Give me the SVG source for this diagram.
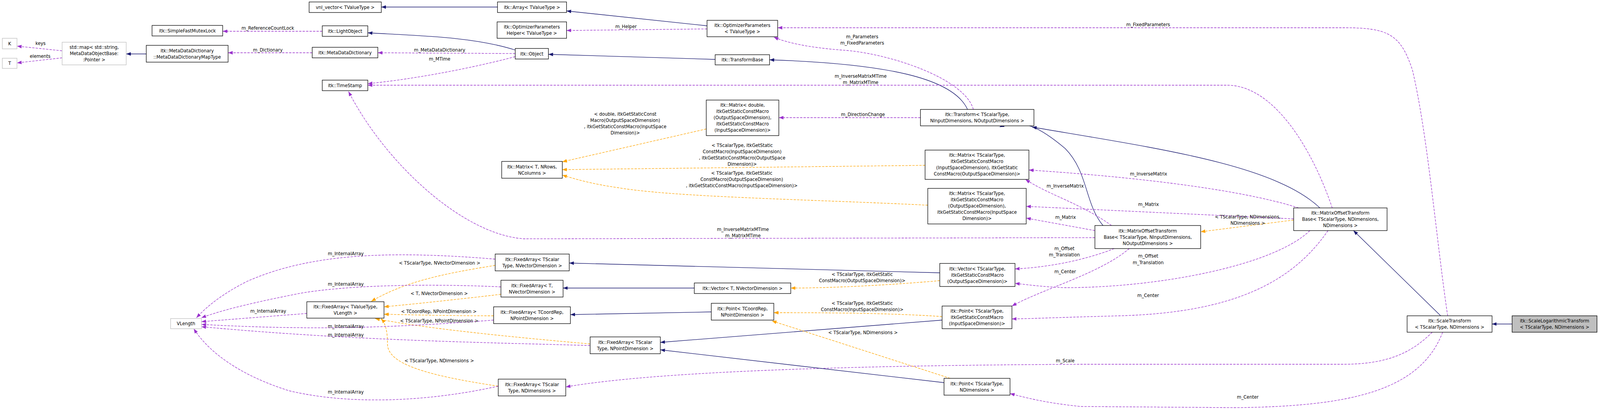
<svg xmlns="http://www.w3.org/2000/svg" width="4144" height="1049" viewBox="0 0 4144 1049">
<style>
text{font-family:"DejaVu Sans",sans-serif;font-size:11.6px;fill:#000;text-anchor:middle}
.n rect{fill:#fff;stroke:#000;stroke-width:1.3}
.g rect{fill:#fff;stroke:#bfbfbf;stroke-width:1.3}
.h rect{fill:#bfbfbf;stroke:#000;stroke-width:1.3}
.e path{fill:none;stroke-width:1.3}
.i{stroke:#191970;marker-end:url(#ai)}
.u{stroke:#9a32cd;stroke-dasharray:6,3;marker-end:url(#au)}
.t{stroke:#ffa500;stroke-dasharray:6,3;marker-end:url(#at)}
</style>
<defs>
<marker id="ai" markerUnits="userSpaceOnUse" markerWidth="12" markerHeight="9" refX="12" refY="4.5" orient="auto"><path d="M0,0L12,4.5L0,9z" fill="#191970"/></marker>
<marker id="au" markerUnits="userSpaceOnUse" markerWidth="12" markerHeight="9" refX="12" refY="4.5" orient="auto"><path d="M0,0L12,4.5L0,9z" fill="#9a32cd"/></marker>
<marker id="at" markerUnits="userSpaceOnUse" markerWidth="12" markerHeight="9" refX="12" refY="4.5" orient="auto"><path d="M0,0L12,4.5L0,9z" fill="#ffa500"/></marker>
</defs>
<rect width="4144" height="1049" fill="#fff"/>
<g transform="scale(0.988,1)">
<g id="connectors" class="e">
<path class="u" d="M161,130L44,118"/>
<path class="u" d="M161,148L44,161"/>
<path class="i" d="M379,138L327,138"/>
<path class="u" d="M809,135L591,135"/>
<path class="u" d="M835,80L577,80"/>
<path class="i" d="M1335,128C1230,95 1100,92 953,84"/>
<path class="u" d="M1335,137L979,135"/>
<path class="u" d="M1335,145C1200,180 1050,205 953,214"/>
<path class="i" d="M1289,18L988,18"/>
<path class="i" d="M1832,66L1468,28"/>
<path class="u" d="M1832,74L1468,78"/>
<path class="i" d="M1853,152L1421,139"/>
<path class="i" d="M2507,280C2470,200 2300,163 1994,153"/>
<path class="u" d="M2522,280C2500,200 2300,135 2180,128C2100,122 2040,110 2005,95"/>
<path class="u" d="M2385,301L2018,301"/>
<path class="u" d="M3452,532C3400,380 3300,218 3180,218L953,218"/>
<path class="t" d="M1830,330L1457,414"/>
<path class="t" d="M2397,423L1457,434"/>
<path class="t" d="M2404,525C2100,510 1750,505 1600,480C1530,470 1490,458 1457,448"/>
<path class="i" d="M2858,577C2810,520 2820,440 2760,380C2700,330 2650,300 2590,325"/>
<path class="u" d="M2880,577C2800,520 2720,500 2657,459"/>
<path class="u" d="M2837,590L2659,558"/>
<path class="u" d="M2837,608L1357,611C1200,600 1000,420 903,234"/>
<path class="u" d="M2887,636C2800,670 2700,685 2630,688"/>
<path class="u" d="M2926,636C2850,700 2700,740 2622,783"/>
<path class="i" d="M3420,532C3300,420 3000,380 2674,325"/>
<path class="u" d="M3365,532C3200,480 2900,450 2666,435"/>
<path class="u" d="M3352,560L2659,528"/>
<path class="t" d="M3352,563L3111,593"/>
<path class="u" d="M3394,590C3300,680 3000,736 2760,736C2700,734 2660,728 2630,725"/>
<path class="u" d="M3441,590C3350,720 3200,800 2900,808C2750,812 2680,815 2622,816"/>
<path class="i" d="M3733,808L3507,590"/>
<path class="i" d="M3918,829L3866,829"/>
<path class="u" d="M3751,808C3720,600 3700,350 3660,180C3630,90 3600,71 3485,71L2015,71"/>
<path class="u" d="M3711,850C3660,900 3600,932 3480,932L2800,932C2200,935 1700,950 1466,990"/>
<path class="u" d="M3738,850C3680,1000 3500,1040 3200,1043L2800,1040C2700,1030 2650,1015 2617,1007"/>
<path class="i" d="M1799,737L1459,737"/>
<path class="i" d="M2435,698L1475,673"/>
<path class="t" d="M2435,718C2300,730 2150,737 2049,737"/>
<path class="i" d="M1843,798L1478,805"/>
<path class="t" d="M2441,810C2300,800 2100,800 2005,800"/>
<path class="i" d="M2441,819L1711,876"/>
<path class="i" d="M2446,979L1711,895"/>
<path class="t" d="M2462,968L2000,821"/>
<path class="t" d="M1283,679C1150,700 1050,720 962,771"/>
<path class="t" d="M1298,753C1150,770 1050,780 995,785"/>
<path class="t" d="M1279,808C1150,808 1050,805 995,804"/>
<path class="t" d="M1529,880C1300,860 1100,840 972,815"/>
<path class="t" d="M1291,988C1100,960 1004,930 1004,880C1004,850 1000,830 988,815"/>
<path class="u" d="M1283,663C1000,640 800,650 640,720C580,750 540,780 509,813"/>
<path class="u" d="M1298,734C1100,725 900,730 780,750C650,775 570,795 522,813"/>
<path class="u" d="M795,802L522,823"/>
<path class="u" d="M1279,819C1000,840 800,845 522,830"/>
<path class="u" d="M1529,884C1200,875 900,870 522,836"/>
<path class="u" d="M1291,988C1100,1030 900,1035 750,1000C620,960 540,900 502,841"/>
</g>
<g id="edge-labels">
<text x="105" y="115">keys</text>
<text x="104" y="148">elements</text>
<text x="694" y="76">m_ReferenceCountLock</text>
<text x="694" y="132">m_Dictionary</text>
<text x="1139" y="132">m_MetaDataDictionary</text>
<text x="1139" y="155">m_MTime</text>
<text x="1622" y="72">m_Helper</text>
<text x="2234" y="98">m_Parameters</text>
<text x="2234" y="114">m_FixedParameters</text>
<text x="2975" y="67">m_FixedParameters</text>
<text x="2230" y="199">m_InverseMatrixMTime</text>
<text x="2230" y="215">m_MatrixMTime</text>
<text x="2236" y="297">m_DirectionChange</text>
<text x="1620" y="296">&lt; double, itkGetStaticConst</text>
<text x="1620" y="312">Macro(OutputSpaceDimension)</text>
<text x="1620" y="328">, itkGetStaticConstMacro(InputSpace</text>
<text x="1620" y="344">Dimension)&gt;</text>
<text x="1923" y="376">&lt; TScalarType, itkGetStatic</text>
<text x="1923" y="392">ConstMacro(InputSpaceDimension)</text>
<text x="1923" y="408">, itkGetStaticConstMacro(OutputSpace</text>
<text x="1923" y="424">Dimension)&gt;</text>
<text x="1922" y="447">&lt; TScalarType, itkGetStatic</text>
<text x="1922" y="463">ConstMacro(OutputSpaceDimension)</text>
<text x="1922" y="479">, itkGetStaticConstMacro(InputSpaceDimension)&gt;</text>
<text x="2976" y="449">m_InverseMatrix</text>
<text x="2760" y="480">m_InverseMatrix</text>
<text x="2976" y="527">m_Matrix</text>
<text x="2761" y="560">m_Matrix</text>
<text x="3233" y="559">&lt; TScalarType, NDimensions,</text>
<text x="3233" y="575">NDimensions &gt;</text>
<text x="1925" y="591">m_InverseMatrixMTime</text>
<text x="1925" y="607">m_MatrixMTime</text>
<text x="2758" y="640">m_Offset</text>
<text x="2758" y="656">m_Translation</text>
<text x="2975" y="659">m_Offset</text>
<text x="2975" y="676">m_Translation</text>
<text x="2760" y="699">m_Center</text>
<text x="2975" y="760">m_Center</text>
<text x="2234" y="706">&lt; TScalarType, itkGetStatic</text>
<text x="2234" y="722">ConstMacro(OutputSpaceDimension)&gt;</text>
<text x="2234" y="780">&lt; TScalarType, itkGetStatic</text>
<text x="2234" y="796">ConstMacro(InputSpaceDimension)&gt;</text>
<text x="2236" y="855">&lt; TScalarType, NDimensions &gt;</text>
<text x="2760" y="927">m_Scale</text>
<text x="3233" y="1020">m_Center</text>
<text x="1139" y="677">&lt; TScalarType, NVectorDimension &gt;</text>
<text x="1138" y="755">&lt; T, NVectorDimension &gt;</text>
<text x="1137" y="801">&lt; TCoordRep, NPointDimension &gt;</text>
<text x="1138" y="825">&lt; TScalarType, NPointDimension &gt;</text>
<text x="1138" y="927">&lt; TScalarType, NDimensions &gt;</text>
<text x="896" y="653">m_InternalArray</text>
<text x="896" y="731">m_InternalArray</text>
<text x="695" y="800">m_InternalArray</text>
<text x="896" y="839">m_InternalArray</text>
<text x="896" y="861">m_InternalArray</text>
<text x="896" y="1007">m_InternalArray</text>
</g>
<g id="n_vnl" class="n"><rect x="801" y="5" width="187" height="27"/><text x="894.5" y="23">vnl_vector&lt; TValueType &gt;</text></g>
<g id="n_mutex" class="n"><rect x="394" y="65" width="183" height="27"/><text x="485.5" y="83">itk::SimpleFastMutexLock</text></g>
<g id="n_light" class="n"><rect x="835" y="66" width="118" height="27"/><text x="894" y="84">itk::LightObject</text></g>
<g id="n_K" class="g"><rect x="6" y="98" width="38" height="27"/><text x="25" y="116">K</text></g>
<g id="n_T" class="g"><rect x="6" y="149" width="38" height="26"/><text x="25" y="166">T</text></g>
<g id="n_map" class="g"><rect x="161" y="108" width="166" height="58"/><text x="244" y="125">std::map&lt; std::string,</text><text x="244" y="141">MetaDataObjectBase:</text><text x="244" y="157">:Pointer &gt;</text></g>
<g id="n_maptype" class="n"><rect x="379" y="116" width="212" height="43"/><text x="485" y="134">itk::MetaDataDictionary</text><text x="485" y="150">::MetaDataDictionaryMapType</text></g>
<g id="n_mdd" class="n"><rect x="809" y="121" width="170" height="27"/><text x="894" y="139">itk::MetaDataDictionary</text></g>
<g id="n_ts" class="n"><rect x="835" y="205" width="118" height="27"/><text x="894" y="223">itk::TimeStamp</text></g>
<g id="n_array" class="n"><rect x="1289" y="5" width="179" height="27"/><text x="1378.5" y="23">itk::Array&lt; TValueType &gt;</text></g>
<g id="n_helper" class="n"><rect x="1288" y="56" width="180" height="42"/><text x="1378" y="73">itk::OptimizerParameters</text><text x="1378" y="89">Helper&lt; TValueType &gt;</text></g>
<g id="n_optp" class="n"><rect x="1832" y="52" width="183" height="42"/><text x="1923.5" y="69">itk::OptimizerParameters</text><text x="1923.5" y="85">&lt; TValueType &gt;</text></g>
<g id="n_object" class="n"><rect x="1335" y="124" width="86" height="27"/><text x="1378" y="142">itk::Object</text></g>
<g id="n_tbase" class="n"><rect x="1853" y="140" width="141" height="26"/><text x="1923.5" y="157">itk::TransformBase</text></g>
<g id="n_mdouble" class="n"><rect x="1830" y="256" width="188" height="91"/><text x="1924" y="273">itk::Matrix&lt; double,</text><text x="1924" y="289">itkGetStaticConstMacro</text><text x="1924" y="305">(OutputSpaceDimension),</text><text x="1924" y="321">itkGetStaticConstMacro</text><text x="1924" y="337">(InputSpaceDimension)&gt;</text></g>
<g id="n_mT" class="n"><rect x="1300" y="413" width="157" height="43"/><text x="1378.5" y="431">itk::Matrix&lt; T, NRows,</text><text x="1378.5" y="447">NColumns &gt;</text></g>
<g id="n_transform" class="n"><rect x="2385" y="280" width="294" height="42"/><text x="2532" y="297">itk::Transform&lt; TScalarType,</text><text x="2532" y="313">NInputDimensions, NOutputDimensions &gt;</text></g>
<g id="n_mIn" class="n"><rect x="2397" y="384" width="269" height="75"/><text x="2531.5" y="401">itk::Matrix&lt; TScalarType,</text><text x="2531.5" y="417">itkGetStaticConstMacro</text><text x="2531.5" y="433">(InputSpaceDimension), itkGetStatic</text><text x="2531.5" y="449">ConstMacro(OutputSpaceDimension)&gt;</text></g>
<g id="n_mOut" class="n"><rect x="2404" y="482" width="255" height="91"/><text x="2531.5" y="499">itk::Matrix&lt; TScalarType,</text><text x="2531.5" y="515">itkGetStaticConstMacro</text><text x="2531.5" y="531">(OutputSpaceDimension),</text><text x="2531.5" y="547">itkGetStaticConstMacro(InputSpace</text><text x="2531.5" y="563">Dimension)&gt;</text></g>
<g id="n_motbIn" class="n"><rect x="2837" y="577" width="274" height="59"/><text x="2974" y="595">itk::MatrixOffsetTransform</text><text x="2974" y="611">Base&lt; TScalarType, NInputDimensions,</text><text x="2974" y="627">NOutputDimensions &gt;</text></g>
<g id="n_motbN" class="n"><rect x="3352" y="532" width="242" height="58"/><text x="3473" y="549">itk::MatrixOffsetTransform</text><text x="3473" y="565">Base&lt; TScalarType, NDimensions,</text><text x="3473" y="581">NDimensions &gt;</text></g>
<g id="n_scale" class="n"><rect x="3646" y="808" width="220" height="42"/><text x="3756" y="825">itk::ScaleTransform</text><text x="3756" y="841">&lt; TScalarType, NDimensions &gt;</text></g>
<g id="n_scalelog" class="h"><rect x="3918" y="808" width="220" height="42"/><text x="4028" y="825">itk::ScaleLogarithmicTransform</text><text x="4028" y="841">&lt; TScalarType, NDimensions &gt;</text></g>
<g id="n_vecOut" class="n"><rect x="2435" y="674" width="195" height="59"/><text x="2532.5" y="692">itk::Vector&lt; TScalarType,</text><text x="2532.5" y="708">itkGetStaticConstMacro</text><text x="2532.5" y="724">(OutputSpaceDimension)&gt;</text></g>
<g id="n_ptIn" class="n"><rect x="2441" y="783" width="181" height="58"/><text x="2531.5" y="800">itk::Point&lt; TScalarType,</text><text x="2531.5" y="816">itkGetStaticConstMacro</text><text x="2531.5" y="832">(InputSpaceDimension)&gt;</text></g>
<g id="n_ptN" class="n"><rect x="2446" y="968" width="171" height="43"/><text x="2531.5" y="986">itk::Point&lt; TScalarType,</text><text x="2531.5" y="1002">NDimensions &gt;</text></g>
<g id="n_vecT" class="n"><rect x="1799" y="724" width="250" height="27"/><text x="1924" y="742">itk::Vector&lt; T, NVectorDimension &gt;</text></g>
<g id="n_ptC" class="n"><rect x="1843" y="776" width="162" height="43"/><text x="1924" y="794">itk::Point&lt; TCoordRep,</text><text x="1924" y="810">NPointDimension &gt;</text></g>
<g id="n_faSV" class="n"><rect x="1283" y="650" width="192" height="43"/><text x="1379" y="668">itk::FixedArray&lt; TScalar</text><text x="1379" y="684">Type, NVectorDimension &gt;</text></g>
<g id="n_faTV" class="n"><rect x="1298" y="717" width="161" height="43"/><text x="1378.5" y="735">itk::FixedArray&lt; T,</text><text x="1378.5" y="751">NVectorDimension &gt;</text></g>
<g id="n_faC" class="n"><rect x="1279" y="785" width="199" height="43"/><text x="1378.5" y="803">itk::FixedArray&lt; TCoordRep,</text><text x="1378.5" y="819">NPointDimension &gt;</text></g>
<g id="n_faSP" class="n"><rect x="1529" y="862" width="182" height="43"/><text x="1620" y="880">itk::FixedArray&lt; TScalar</text><text x="1620" y="896">Type, NPointDimension &gt;</text></g>
<g id="n_faSN" class="n"><rect x="1291" y="970" width="175" height="43"/><text x="1378.5" y="988">itk::FixedArray&lt; TScalar</text><text x="1378.5" y="1004">Type, NDimensions &gt;</text></g>
<g id="n_faV" class="n"><rect x="795" y="772" width="200" height="42"/><text x="895" y="789">itk::FixedArray&lt; TValueType,</text><text x="895" y="805">VLength &gt;</text></g>
<g id="n_vl" class="g"><rect x="442" y="815" width="80" height="26"/><text x="482" y="832">VLength</text></g>
</g>
</svg>
